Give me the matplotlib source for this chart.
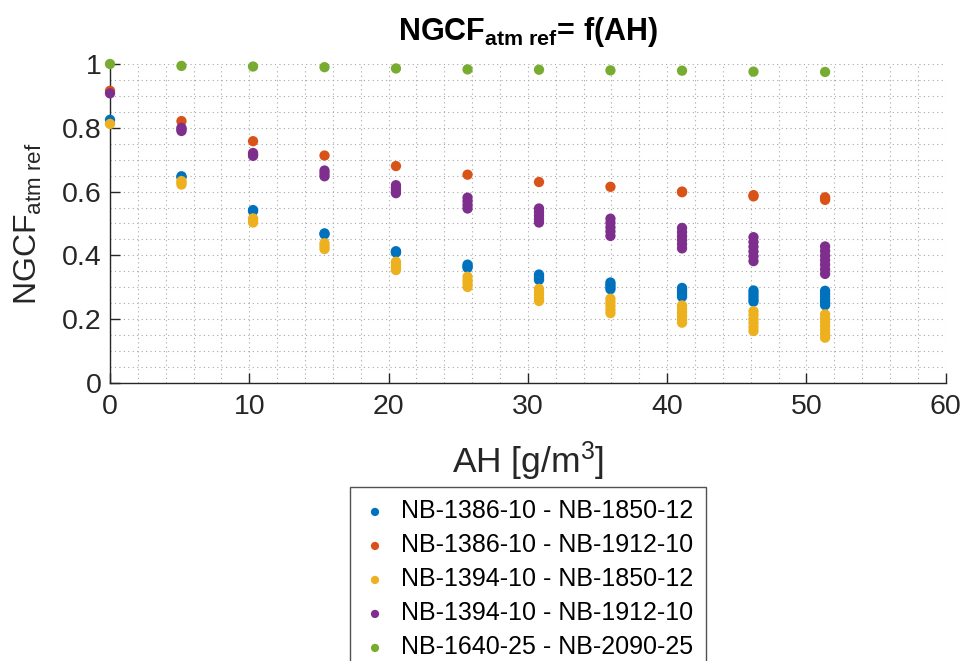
import matplotlib
matplotlib.use("Agg")
import matplotlib.pyplot as plt
import numpy as np

plt.rcParams['font.family'] = ['Liberation Sans', 'DejaVu Sans']
plt.rcParams['mathtext.fontset'] = 'custom'
plt.rcParams['mathtext.rm'] = 'Liberation Sans'
plt.rcParams['mathtext.it'] = 'Liberation Sans:italic'
plt.rcParams['mathtext.bf'] = 'Liberation Sans:bold'

# AH values [g/m^3]
ah = [0.0, 5.13, 10.27, 15.40, 20.53, 25.67, 30.80, 35.93, 41.07, 46.20, 51.34]

labels = ['NB-1386-10 - NB-1850-12', 'NB-1386-10 - NB-1912-10',
          'NB-1394-10 - NB-1850-12', 'NB-1394-10 - NB-1912-10',
          'NB-1640-25 - NB-2090-25']
colors = ['#0072BD', '#D95319', '#EDB120', '#7E2F8E', '#77AC30']

# NGCF values per AH (several samples each)
s1 = [[0.825], [0.648, 0.645], [0.542, 0.539], [0.469, 0.466],
      [0.413, 0.411, 0.409], [0.371, 0.366, 0.361],
      [0.340, 0.334, 0.328, 0.323], [0.315, 0.308, 0.301, 0.294],
      [0.298, 0.291, 0.284, 0.277, 0.270],
      [0.290, 0.281, 0.272, 0.263, 0.255],
      [0.289, 0.280, 0.271, 0.262, 0.253, 0.244]]
s2 = [[0.916], [0.821], [0.758], [0.713], [0.680], [0.653], [0.630],
      [0.615], [0.600, 0.598], [0.589, 0.585], [0.582, 0.578, 0.574]]
s3 = [[0.812], [0.633, 0.628, 0.622], [0.516, 0.510, 0.503],
      [0.438, 0.429, 0.420], [0.380, 0.371, 0.362, 0.354],
      [0.333, 0.322, 0.312, 0.301], [0.295, 0.285, 0.276, 0.266, 0.257],
      [0.264, 0.253, 0.242, 0.230, 0.219],
      [0.243, 0.232, 0.221, 0.211, 0.200, 0.189],
      [0.225, 0.213, 0.200, 0.188, 0.175, 0.163],
      [0.215, 0.203, 0.191, 0.179, 0.166, 0.154, 0.142]]
s4 = [[0.908], [0.800, 0.795, 0.790], [0.721, 0.716, 0.712],
      [0.666, 0.657, 0.648], [0.620, 0.611, 0.603, 0.595],
      [0.581, 0.570, 0.558, 0.547], [0.547, 0.536, 0.525, 0.514, 0.503],
      [0.515, 0.502, 0.488, 0.475, 0.461],
      [0.486, 0.473, 0.460, 0.448, 0.435, 0.422],
      [0.457, 0.442, 0.427, 0.412, 0.397, 0.382],
      [0.428, 0.414, 0.399, 0.385, 0.371, 0.356, 0.342]]
s5 = [[1.000], [0.994], [0.992], [0.990], [0.986], [0.983], [0.982],
      [0.980], [0.979], [0.976], [0.975]]
series = [s1, s2, s3, s4, s5]

fig = plt.figure(figsize=(9.65, 6.61), dpi=100)
ax = fig.add_axes([0.114, 0.4206, 0.866, 0.4826])

for vals, lab, col in zip(series, labels, colors):
    xs, ys = [], []
    for x, group in zip(ah, vals):
        for v in group:
            xs.append(x)
            ys.append(v)
    ax.scatter(xs, ys, s=55, color=col, edgecolors='none', label=lab,
               clip_on=False, zorder=3)

ax.set_xlim(0, 60)
ax.set_ylim(0, 1)
ax.set_xticks(np.arange(0, 61, 10))
ax.set_yticks([0, 0.2, 0.4, 0.6, 0.8, 1])
ax.set_yticklabels(['0', '0.2', '0.4', '0.6', '0.8', '1'])
ax.set_xticks(np.arange(0, 61, 2), minor=True)
ax.set_yticks(np.arange(0, 1.001, 0.05), minor=True)
ax.grid(True, which='both', linestyle=(0, (1, 3)), color='#a8a8a8', linewidth=0.8)
ax.set_axisbelow(True)
for sp in ['top', 'right']:
    ax.spines[sp].set_visible(False)
for sp in ['left', 'bottom']:
    ax.spines[sp].set_color('#262626')
    ax.spines[sp].set_linewidth(1.0)
ax.tick_params(which='major', direction='in', length=7, width=1, colors='#262626',
               labelsize=20.5, labelcolor='#262626')
ax.tick_params(which='minor', length=0)
ax.tick_params(axis='x', pad=8)
ax.tick_params(axis='y', pad=6)

ax.set_xlabel('AH [g/m$^3$]', fontsize=25.5, color='#262626', labelpad=14)
ax.set_ylabel(r'NGCF$_{\mathrm{atm\ ref}}$', fontsize=23, color='#262626', labelpad=13)
ax.set_title(r'NGCF$_{\mathbf{atm\ ref}}$= f(AH)', fontsize=22, fontweight='bold',
             pad=17)

leg = fig.legend(loc='upper left', bbox_to_anchor=(350/965, 1 - 487/661),
                 fontsize=18, frameon=True, fancybox=False, edgecolor='#262626',
                 borderpad=0.5, labelspacing=0.4, handletextpad=0.55,
                 handlelength=1.0, markerscale=0.8, borderaxespad=0)
leg.get_frame().set_linewidth(1.0)

fig.savefig('out.png', dpi=100)
